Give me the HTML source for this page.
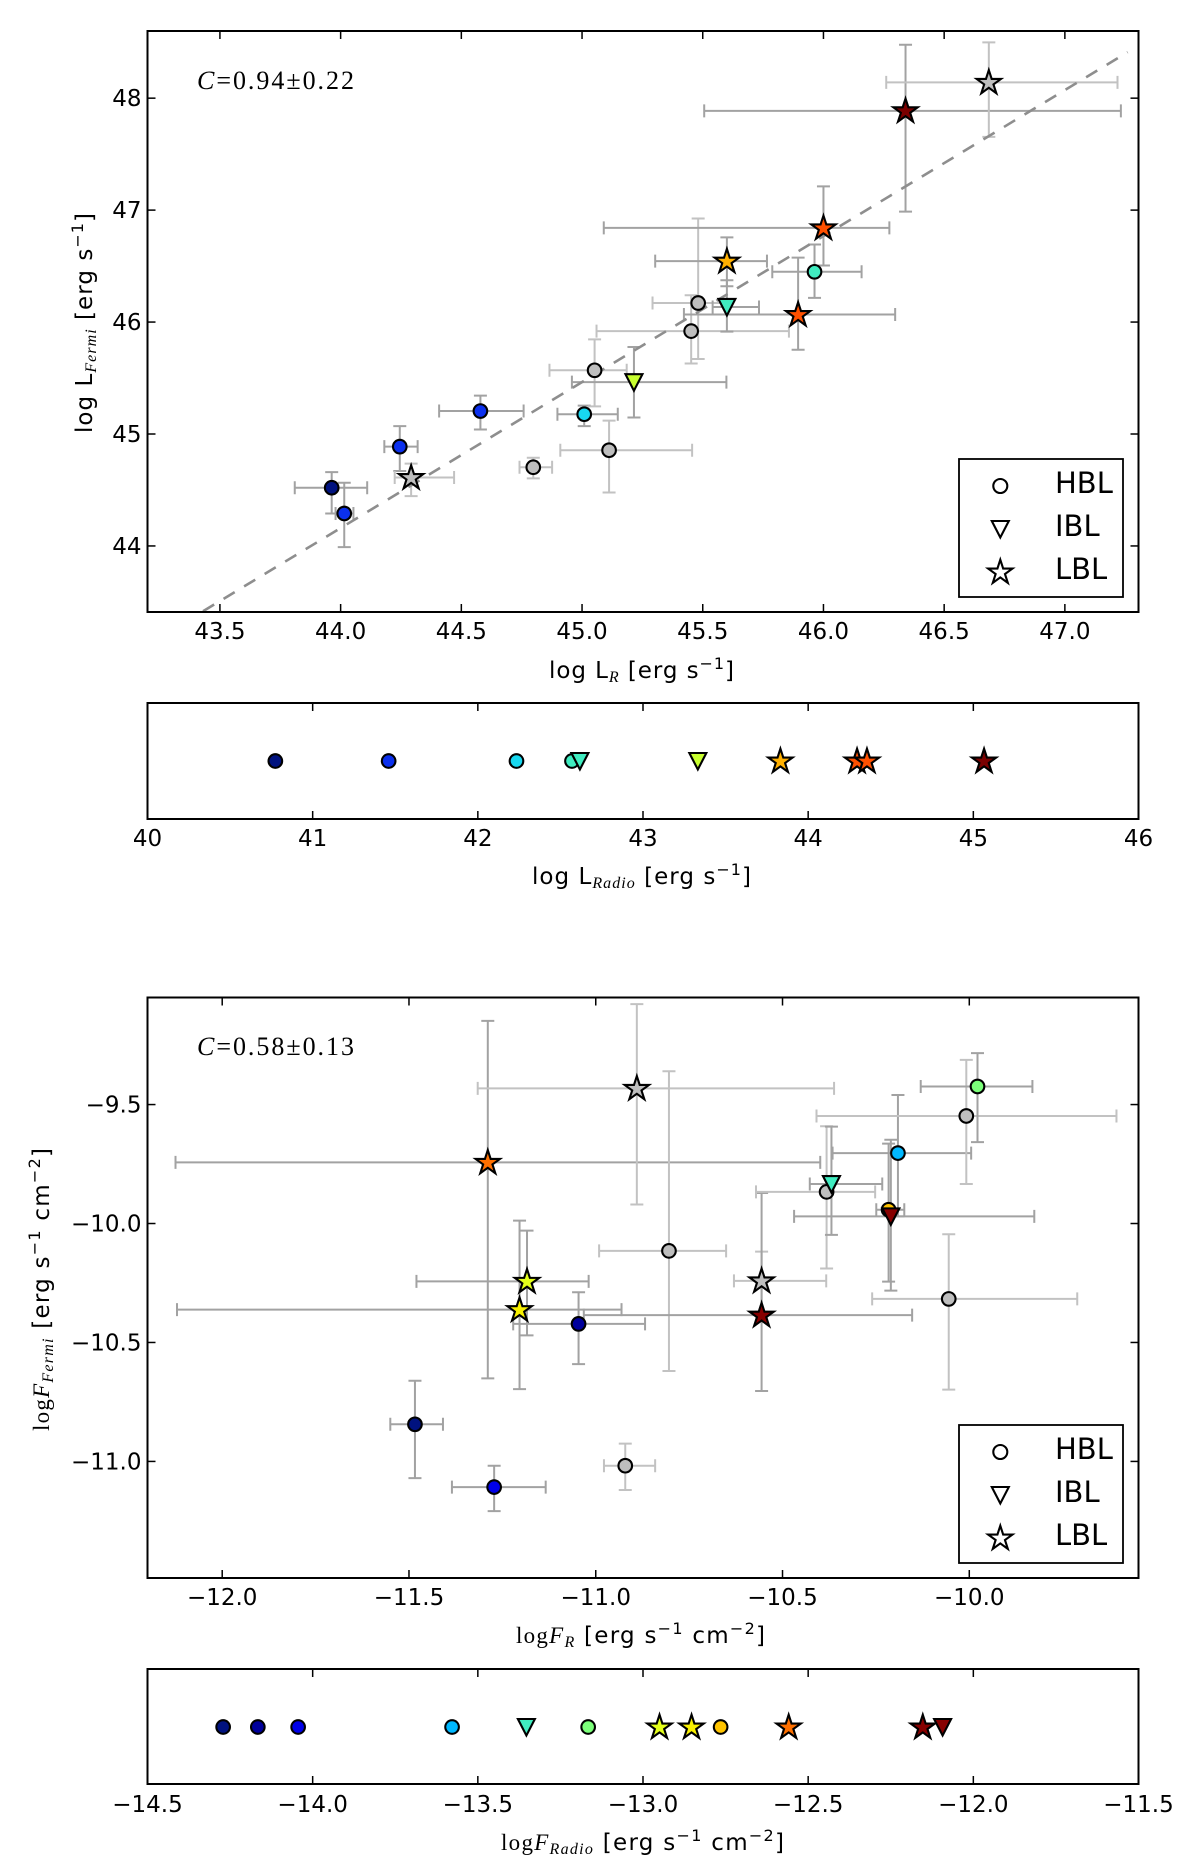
<!DOCTYPE html>
<html lang="en">
<head>
<meta charset="utf-8">
<title>Fermi versus radio correlation plots</title>
<style>
html,body{margin:0;padding:0;background:#fff;}
svg{display:block;}
text{font-family:"DejaVu Sans","Liberation Sans",sans-serif;fill:#000;}
.math{font-family:"Liberation Serif",serif;font-style:italic;}
.serif{font-family:"Liberation Serif",serif;}
</style>
</head>
<body>
<svg id="figure" xmlns="http://www.w3.org/2000/svg" width="1200" height="1868" viewBox="0 0 1200 1868">
  <rect x="0" y="0" width="1200" height="1868" fill="#fff"/>
  <g id="layer-marks"></g>

  <text class="serif" x="197" y="89" font-size="26" textLength="157" lengthAdjust="spacing"><tspan class="math">C</tspan>=0.94±0.22</text>
  <text class="serif" x="197" y="1055" font-size="26" textLength="157" lengthAdjust="spacing"><tspan class="math">C</tspan>=0.58±0.13</text>

  <text transform="translate(92,433) rotate(-90)" font-size="23" textLength="220" lengthAdjust="spacing">log L<tspan class="math" font-size="16" dy="4">Fermi</tspan><tspan dy="-4"> [erg s</tspan><tspan font-size="16" dy="-9">−1</tspan><tspan dy="9">]</tspan></text>
  <text x="549" y="678" font-size="23" textLength="185" lengthAdjust="spacing">log L<tspan class="math" font-size="16" dy="4">R</tspan><tspan dy="-4"> [erg s</tspan><tspan font-size="16" dy="-9">−1</tspan><tspan dy="9">]</tspan></text>
  <text x="532" y="884" font-size="23" textLength="219" lengthAdjust="spacing">log L<tspan class="math" font-size="16" dy="4">Radio</tspan><tspan dy="-4"> [erg s</tspan><tspan font-size="16" dy="-9">−1</tspan><tspan dy="9">]</tspan></text>

  <text transform="translate(49,1431) rotate(-90)" font-size="23" textLength="283" lengthAdjust="spacing"><tspan class="serif">log</tspan><tspan class="math">F</tspan><tspan class="math" font-size="16" dy="4">Fermi</tspan><tspan dy="-4"> [erg s</tspan><tspan font-size="16" dy="-9">−1</tspan><tspan dy="9"> cm</tspan><tspan font-size="16" dy="-9">−2</tspan><tspan dy="9">]</tspan></text>
  <text x="516" y="1643" font-size="23" textLength="249" lengthAdjust="spacing"><tspan class="serif">log</tspan><tspan class="math">F</tspan><tspan class="math" font-size="16" dy="4">R</tspan><tspan dy="-4"> [erg s</tspan><tspan font-size="16" dy="-9">−1</tspan><tspan dy="9"> cm</tspan><tspan font-size="16" dy="-9">−2</tspan><tspan dy="9">]</tspan></text>
  <text x="501" y="1850" font-size="23" textLength="283" lengthAdjust="spacing"><tspan class="serif">log</tspan><tspan class="math">F</tspan><tspan class="math" font-size="16" dy="4">Radio</tspan><tspan dy="-4"> [erg s</tspan><tspan font-size="16" dy="-9">−1</tspan><tspan dy="9"> cm</tspan><tspan font-size="16" dy="-9">−2</tspan><tspan dy="9">]</tspan></text>
</svg>

<script>
// ---------- Luminosity scatter data ----------
const lumType = ['o','o','o','o','s','o','o','o','o','o','o','t','t','s','s','o','s','s','s'];
const lumTone = ['navy','blue','blue','blue','gray','gray','cyan','gray','gray','gray','gray','lime','teal','amber','vermilion','teal','vermilion','maroon','gray'];
const lumX   = [43.963,44.015,44.245,44.579,44.292,44.798,45.009,45.052,45.112,45.452,45.481,45.215,45.600,45.600,45.895,45.963,46.000,46.340,46.685];
const lumY   = [44.520,44.290,44.887,45.205,44.611,44.703,45.177,45.569,44.855,45.919,46.170,45.463,46.135,46.544,46.067,46.449,46.841,47.887,48.141];
const lumXLo = [43.810,43.979,44.181,44.408,44.224,44.741,44.898,44.865,44.910,45.060,45.292,44.958,45.541,45.303,45.422,45.788,45.090,45.506,46.260];
const lumXHi = [44.110,44.053,44.319,44.758,44.470,44.876,45.148,45.185,45.456,45.857,45.600,45.598,45.733,45.766,46.297,46.158,46.273,47.232,47.218];
const lumYLo = [44.290,43.990,44.670,45.040,44.445,44.604,45.070,45.247,44.477,45.630,45.670,45.148,45.915,46.320,45.753,46.216,46.505,46.986,47.654];
const lumYHi = [44.660,44.565,45.070,45.343,44.735,44.788,45.254,45.845,45.120,46.240,46.925,45.777,46.374,46.756,46.576,46.693,47.212,48.477,48.498];
const lumFitSlope = 1.304;
const lumFitIntercept = -13.216;
const lumFitRange = [43.43, 47.26];
const lumXTicks = ['43.5','44.0','44.5','45.0','45.5','46.0','46.5','47.0'];
const lumYTicks = ['44','45','46','47','48'];

// ---------- Radio luminosity strip data ----------
const radioLumX    = [40.774,41.460,42.234,42.570,42.618,43.332,43.832,44.296,44.356,45.065];
const radioLumType = ['o','o','o','o','t','t','s','s','s','s'];
const radioLumTone = ['navy','blue','cyan','teal','teal','lime','amber','vermilion','vermilion','maroon'];
const radioLumTicks = ['40','41','42','43','44','45','46'];

// ---------- Flux scatter data ----------
const fluxType = ['o','o','o','s','s','s','s','o','s','s','o','t','o','o','t','o','o','o','o'];
const fluxTone = ['navy','royal','indigo','orange','chartreuse','yellow','gray','gray','gray','crimson','gray','teal','sky','gold','crimson','gray','gray','green','gray'];
const fluxX   = [-11.484,-11.272,-11.046,-11.289,-11.184,-11.204,-10.890,-10.804,-10.556,-10.556,-10.382,-10.369,-10.191,-10.216,-10.210,-10.055,-10.008,-9.978,-10.921];
const fluxY   = [-10.844,-11.108,-10.422,-9.743,-10.243,-10.362,-9.432,-10.115,-10.241,-10.385,-9.867,-9.834,-9.704,-9.942,-9.970,-10.317,-9.548,-9.424,-11.018];
const fluxXLo = [-11.550,-11.385,-11.221,-12.125,-11.480,-12.121,-11.316,-10.991,-10.630,-11.032,-10.571,-10.427,-10.366,-10.249,-10.469,-10.260,-10.409,-10.130,-10.978];
const fluxXHi = [-11.409,-11.134,-10.868,-10.399,-11.019,-10.931,-10.362,-10.651,-10.383,-10.153,-10.252,-10.233,-9.995,-10.174,-9.826,-9.711,-9.606,-9.831,-10.841];
const fluxYLo = [-11.070,-11.209,-10.591,-10.651,-10.470,-10.696,-9.920,-10.620,-10.370,-10.704,-10.189,-10.048,-9.970,-10.244,-10.282,-10.698,-9.834,-9.658,-11.120];
const fluxYHi = [-10.661,-11.018,-10.289,-9.148,-10.030,-9.988,-9.078,-9.360,-10.118,-9.872,-9.591,-9.593,-9.460,-9.664,-9.648,-10.045,-9.312,-9.284,-10.925];
const fluxXTicks = ['-12.0','-11.5','-11.0','-10.5','-10.0'];
const fluxYTicks = ['-11.0','-10.5','-10.0','-9.5'];

// ---------- Radio flux strip data ----------
const radioFluxX    = [-14.271,-14.166,-14.044,-13.578,-13.353,-13.166,-12.950,-12.853,-12.765,-12.559,-12.153,-12.093];
const radioFluxType = ['o','o','o','o','t','o','s','s','o','s','s','t'];
const radioFluxTone = ['navy','indigo','royal','sky','teal','green','chartreuse','yellow','gold','orange','crimson','crimson'];
const radioFluxTicks = ['-14.5','-14.0','-13.5','-13.0','-12.5','-12.0','-11.5'];

// ---------- Legend ----------
const legendLabels = ['HBL','IBL','LBL'];
const legendTypes  = ['o','t','s'];

// ---------- Palette ----------
const palette = {
  navy:'#00127f', blue:'#0b30ee', royal:'#0000e8', indigo:'#00009c', cyan:'#18d8f0', sky:'#00b8ff',
  teal:'#40ecc0', green:'#7cff7a', lime:'#c8ff30', chartreuse:'#e4ff1a', yellow:'#f8f000', gold:'#ffc400',
  amber:'#ffb000', orange:'#ff7000', vermilion:'#ff5000', crimson:'#870000', maroon:'#7a0000', gray:'#bebebe'
};

const SVGNS = 'http://www.w3.org/2000/svg';
const root = document.getElementById('layer-marks');

function make(tag, attrs, parent) {
  const node = document.createElementNS(SVGNS, tag);
  for (const k in attrs) node.setAttribute(k, attrs[k]);
  (parent || root).appendChild(node);
  return node;
}
function scale(d0, d1, r0, r1) {
  return v => r0 + (v - d0) * (r1 - r0) / (d1 - d0);
}
function tickText(s) { return s.replace('-', '\u2212'); }

function starPath(cx, cy, R) {
  const r = R * 0.382;
  let d = '';
  for (let i = 0; i < 10; i++) {
    const rad = i % 2 ? r : R;
    const a = -Math.PI / 2 + i * Math.PI / 5;
    d += (i ? 'L' : 'M') + (cx + rad * Math.cos(a)).toFixed(2) + ' ' + (cy + rad * Math.sin(a)).toFixed(2);
  }
  return d + 'Z';
}

function drawMarker(kind, cx, cy, fill, big, parent) {
  const base = { fill: fill, stroke: '#000', 'stroke-width': 2.1, 'stroke-linejoin': 'miter' };
  let m;
  if (kind === 'o') {
    m = make('circle', Object.assign({ cx: cx, cy: cy, r: big ? 7 : 6.8 }, base), parent);
  } else if (kind === 't') {
    m = make('path', Object.assign({ d: 'M' + (cx - 8.5) + ' ' + (cy - 8) + 'L' + (cx + 8.5) + ' ' + (cy - 8) + 'L' + cx + ' ' + (cy + 8.5) + 'Z' }, base), parent);
  } else {
    m = make('path', Object.assign({ d: starPath(cx, cy + 0.5, 12.8) }, base), parent);
  }
  return m;
}

function drawFrame(prefix, box, sx, sy, xTicks, yTicks) {
  const frameGroup = make('g', {});
  
  

  xTicks.forEach(label => {
    const v = parseFloat(label);
    const x = sx(v);
    const bottomTick = make('line', { x1: x, x2: x, y1: box.bottom, y2: box.bottom - 8, stroke: '#000', 'stroke-width': 1.5 }, frameGroup);
    
    
    const topTick = make('line', { x1: x, x2: x, y1: box.top, y2: box.top + 8, stroke: '#000', 'stroke-width': 1.5 }, frameGroup);
    
    
    const t = make('text', { x: x, y: box.tickBase, 'text-anchor': 'middle', 'font-size': 23 }, frameGroup);
    
    
    t.textContent = tickText(label);
  });

  yTicks.forEach(label => {
    const v = parseFloat(label);
    const y = sy(v);
    const leftTick = make('line', { x1: box.left, x2: box.left + 8, y1: y, y2: y, stroke: '#000', 'stroke-width': 1.5 }, frameGroup);
    
    
    const rightTick = make('line', { x1: box.right, x2: box.right - 8, y1: y, y2: y, stroke: '#000', 'stroke-width': 1.5 }, frameGroup);
    
    
    const t = make('text', { x: box.left - 6, y: y + 8, 'text-anchor': 'end', 'font-size': 23 }, frameGroup);
    
    
    t.textContent = tickText(label);
  });
}

function drawBorder(prefix, box) {
  const border = make('rect', { x: box.left, y: box.top, width: box.right - box.left, height: box.bottom - box.top, fill: 'none', stroke: '#000', 'stroke-width': 2 });
  
  
}

function drawErrors(prefix, sx, sy, xs, ys, xLo, xHi, yLo, yHi, tones) {
  xs.forEach((v, i) => {
    const col = tones[i] === 'gray' ? '#c2c2c2' : '#a2a2a2';
    const cap = 6.5;
    const g = make('g', { stroke: col, 'stroke-width': 2, fill: 'none' });
    
    
    const px = sx(v), py = sy(ys[i]);
    const xa = sx(xLo[i]), xb = sx(xHi[i]), ya = sy(yLo[i]), yb = sy(yHi[i]);
    make('path', {
      d: 'M' + xa + ' ' + py + 'L' + xb + ' ' + py +
         'M' + xa + ' ' + (py - cap) + 'L' + xa + ' ' + (py + cap) +
         'M' + xb + ' ' + (py - cap) + 'L' + xb + ' ' + (py + cap) +
         'M' + px + ' ' + ya + 'L' + px + ' ' + yb +
         'M' + (px - cap) + ' ' + ya + 'L' + (px + cap) + ' ' + ya +
         'M' + (px - cap) + ' ' + yb + 'L' + (px + cap) + ' ' + yb
    }, g);
  });
}

function drawPoints(prefix, sx, sy, xs, ys, types, tones) {
  xs.forEach((v, i) => {
    const m = drawMarker(types[i], sx(v), sy(ys[i]), palette[tones[i]], false);
    
    
  });
}

function drawStripPoints(prefix, sx, yPix, xs, types, tones) {
  xs.forEach((v, i) => {
    const m = drawMarker(types[i], sx(v), yPix, palette[tones[i]], false);
    
    
  });
}

function drawLegend(prefix, x0, y0) {
  const g = make('g', {});
  
  
  const bg = make('rect', { x: x0, y: y0, width: 164, height: 138, fill: '#fff', stroke: '#000', 'stroke-width': 1.8 }, g);
  
  
  legendLabels.forEach((label, i) => {
    const rowY = y0 + 27 + i * 43;
    const m = drawMarker(legendTypes[i], x0 + 41.3, rowY, '#fff', true, g);
    
    
    const t = make('text', { x: x0 + 96, y: rowY + 7, 'font-size': 29 }, g);
    
    
    t.textContent = label;
  });
}

// ---------- Panel A: luminosity scatter ----------
const boxA = { left: 147.5, right: 1138.5, top: 31, bottom: 612, tickBase: 639 };
const sxA = scale(43.2, 47.305, boxA.left, boxA.right);
const syA = scale(43.41, 48.6, boxA.bottom, boxA.top);
drawFrame('luminosity', boxA, sxA, syA, lumXTicks, lumYTicks);
drawErrors('luminosity', sxA, syA, lumX, lumY, lumXLo, lumXHi, lumYLo, lumYHi, lumTone);
const lumFitLine = make('line', {
  x1: sxA(lumFitRange[0]), y1: syA(lumFitSlope * lumFitRange[0] + lumFitIntercept),
  x2: sxA(lumFitRange[1]), y2: syA(lumFitSlope * lumFitRange[1] + lumFitIntercept),
  stroke: '#8e8e8e', 'stroke-width': 2.6, 'stroke-dasharray': '13 11'
});


drawPoints('luminosity', sxA, syA, lumX, lumY, lumType, lumTone);
drawBorder('luminosity', boxA);
drawLegend('luminosity', 959, 459);

// ---------- Panel B: radio luminosity strip ----------
const boxB = { left: 147.5, right: 1138.5, top: 703, bottom: 819, tickBase: 846 };
const sxB = scale(40, 46, boxB.left, boxB.right);
drawFrame('radio-luminosity', boxB, sxB, null, radioLumTicks, []);
drawStripPoints('radio-luminosity', sxB, 761, radioLumX, radioLumType, radioLumTone);
drawBorder('radio-luminosity', boxB);

// ---------- Panel C: flux scatter ----------
const boxC = { left: 147.5, right: 1138.5, top: 997.5, bottom: 1578, tickBase: 1605 };
const sxC = scale(-12.2, -9.547, boxC.left, boxC.right);
const syC = scale(-11.49, -9.05, boxC.bottom, boxC.top);
drawFrame('flux', boxC, sxC, syC, fluxXTicks, fluxYTicks);
drawErrors('flux', sxC, syC, fluxX, fluxY, fluxXLo, fluxXHi, fluxYLo, fluxYHi, fluxTone);
drawPoints('flux', sxC, syC, fluxX, fluxY, fluxType, fluxTone);
drawBorder('flux', boxC);
drawLegend('flux', 959, 1425);

// ---------- Panel D: radio flux strip ----------
const boxD = { left: 147.5, right: 1138.5, top: 1669, bottom: 1784, tickBase: 1812 };
const sxD = scale(-14.5, -11.5, boxD.left, boxD.right);
drawFrame('radio-flux', boxD, sxD, null, radioFluxTicks, []);
drawStripPoints('radio-flux', sxD, 1727, radioFluxX, radioFluxType, radioFluxTone);
drawBorder('radio-flux', boxD);
</script>
</body>
</html>
